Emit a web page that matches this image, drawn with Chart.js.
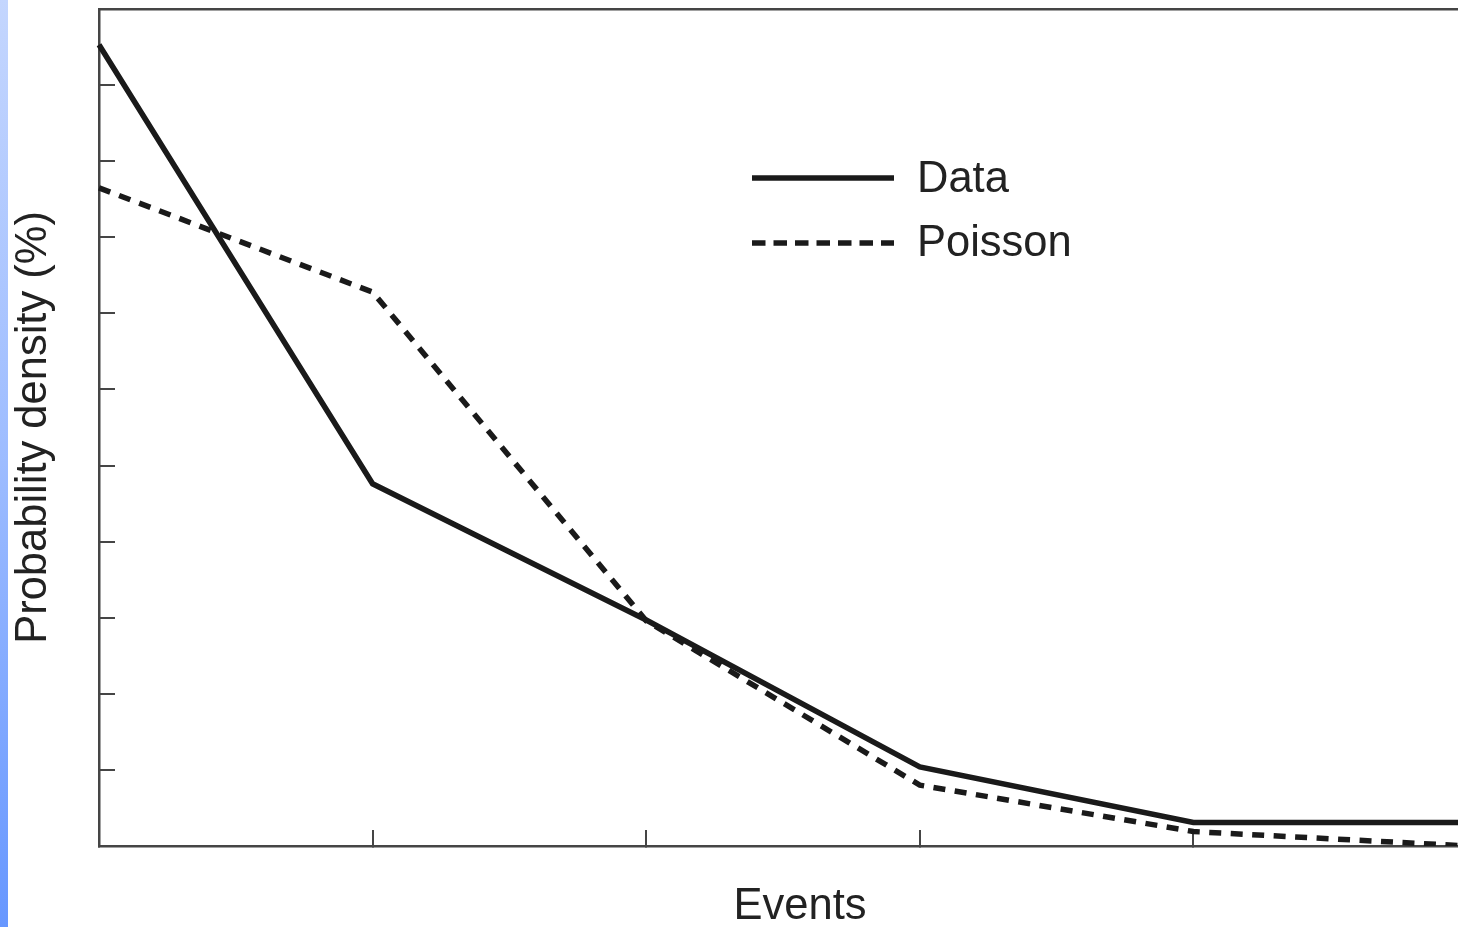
<!DOCTYPE html>
<html>
<head>
<meta charset="utf-8">
<script src="https://cdn.jsdelivr.net/npm/chart.js@4.4.1/dist/chart.umd.min.js"></script>
<style>
  html, body { margin: 0; padding: 0; background: #fff; overflow: hidden; }
  #wrap { position: relative; width: 1458px; height: 927px; overflow: hidden; }
  #strip { position: absolute; left: 0; top: 0; width: 8px; height: 927px;
           background: linear-gradient(to bottom, #c4d6fe 0%, #9dbcff 50%, #6797ff 100%); }
  #box { position: absolute; left: 0; top: 0; width: 1467px; height: 927px; }
  .lg { position: absolute; font-family: "Liberation Sans", Arial, sans-serif; font-size: 43.5px;
        line-height: 1; color: #222; white-space: nowrap; }
  .lgline { position: absolute; }
</style>
</head>
<body>
<div id="wrap">
  <div id="strip"></div>
  <div id="box"><canvas id="c" width="1467" height="927"></canvas></div>
  <svg class="lgline" style="left:752px; top:172px;" width="142" height="12">
    <line x1="0" y1="6" x2="142" y2="6" stroke="#1a1a1a" stroke-width="5.5"/>
  </svg>
  <div class="lg" style="left:917px; top:156px;">Data</div>
  <svg class="lgline" style="left:752px; top:237px;" width="142" height="12">
    <line x1="0" y1="6" x2="142" y2="6" stroke="#1a1a1a" stroke-width="5.5" stroke-dasharray="13.5 8"/>
  </svg>
  <div class="lg" style="left:917px; top:220px;">Poisson</div>
  <div id="xt" class="lg" style="left:600px; width:400px; text-align:center; top:883px;"></div>
</div>
<script>
// ---- data ----
const categories = ['0', '1', '2', '3', '4', '5'];
const dataValues = [10.53, 4.76, 2.97, 1.04, 0.31, 0.31];
const poissonValues = [8.65, 7.28, 2.96, 0.80, 0.19, 0.0];
const yMin = 0;
const yMax = 11;
const yStep = 1;
const xTitle = 'Events';
const yTitle = 'Probability density (%)';

document.getElementById('xt').textContent = xTitle;

const FONT = '"Liberation Sans", Arial, sans-serif';
const AXIS = '#454545';

new Chart(document.getElementById('c'), {
  type: 'line',
  data: {
    labels: categories,
    datasets: [
      { label: 'Data', data: dataValues, borderColor: '#1a1a1a', borderWidth: 5.5,
        pointRadius: 0, fill: false, tension: 0, borderJoinStyle: 'miter', borderCapStyle: 'butt' },
      { label: 'Poisson', data: poissonValues, borderColor: '#1a1a1a', borderWidth: 5.5,
        borderDash: [12, 9.5], pointRadius: 0, fill: false, tension: 0, borderCapStyle: 'butt' }
    ]
  },
  options: {
    responsive: false,
    animation: false,
    devicePixelRatio: 1,
    layout: { padding: 0 },
    plugins: { legend: { display: false }, tooltip: { enabled: false } },
    scales: {
      x: {
        type: 'category', position: 'bottom', offset: false,
        grid: { display: true, drawOnChartArea: false, drawTicks: true, tickLength: -16, color: AXIS, lineWidth: 2 },
        border: { display: true, color: AXIS, width: 2.5 },
        ticks: { display: false },
        title: { display: false },
        afterFit: s => { s.height = 81; }
      },
      xTop: {
        type: 'category', position: 'top', offset: false,
        grid: { display: false },
        border: { display: true, color: AXIS, width: 2.5 },
        ticks: { display: false },
        afterFit: s => { s.height = 9; }
      },
      y: {
        type: 'linear', position: 'left', min: yMin, max: yMax,
        grid: { display: true, drawOnChartArea: false, drawTicks: true, tickLength: -16, color: AXIS, lineWidth: 2 },
        border: { display: true, color: AXIS, width: 2.5 },
        ticks: { display: false, stepSize: yStep },
        title: { display: true, text: yTitle, color: '#222', padding: { top: 12, bottom: 0 },
                 font: { family: FONT, size: 43.5, lineHeight: 1 } },
        afterFit: s => { s.width = 99; }
      }
    }
  }
});
</script>
</body>
</html>
